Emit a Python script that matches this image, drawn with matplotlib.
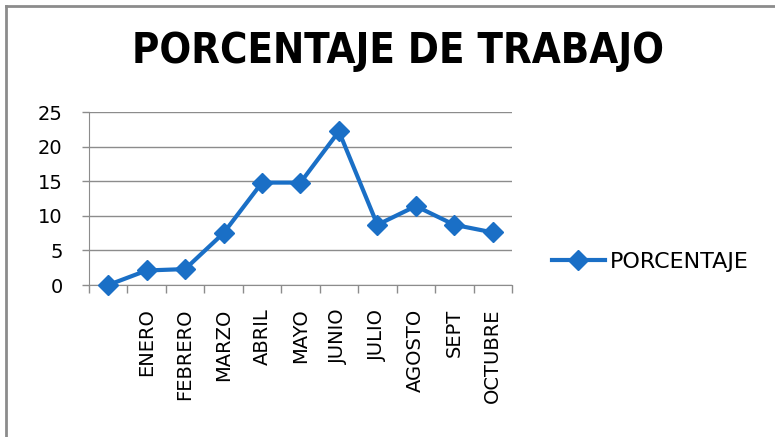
import matplotlib
matplotlib.use("Agg")
import matplotlib.pyplot as plt
from matplotlib.lines import Line2D

# Monthly work percentage
meses = ['', 'ENERO', 'FEBRERO', 'MARZO', 'ABRIL', 'MAYO', 'JUNIO',
         'JULIO', 'AGOSTO', 'SEPT', 'OCTUBRE']
porcentaje = [0, 2.1, 2.3, 7.5, 14.8, 14.8, 22.2, 8.7, 11.4, 8.7, 7.6]
y_ticks = [0, 5, 10, 15, 20, 25]

azul = '#1a6fc6'
gris = '#8c8c8c'
fuente = 'DejaVu Sans'

fig = plt.figure(figsize=(7.75, 4.37), dpi=100)
ax = fig.add_axes([0.1148, 0.3478, 0.5458, 0.3959])

x = list(range(len(meses)))
ax.plot(x, porcentaje, color=azul, lw=3, marker='D', markersize=10,
        clip_on=False, zorder=3, label='PORCENTAJE')

ax.set_xlim(-0.5, len(meses) - 0.5)
ax.set_ylim(0, 25)
ax.set_yticks(y_ticks)
ax.set_yticklabels([str(v) for v in y_ticks], fontsize=14, family=fuente)
ax.yaxis.grid(True, color=gris, lw=1)
ax.set_axisbelow(True)

# category labels centred, tick marks on the boundaries
ax.set_xticks(x)
ax.set_xticklabels(meses, rotation=90, fontsize=14, family=fuente, va='top')
ax.set_xticks([i - 0.5 for i in range(len(meses) + 1)], minor=True)
ax.tick_params(axis='x', which='major', length=0, pad=17)
ax.tick_params(axis='x', which='minor', length=6, color=gris, width=1)
ax.tick_params(axis='y', length=5, color=gris, width=1, pad=14)

for s in ['top', 'right']:
    ax.spines[s].set_visible(False)
ax.spines['left'].set_color(gris)
ax.spines['bottom'].set_color(gris)

leg = fig.legend(loc='center left', bbox_to_anchor=(0.712, 0.40), frameon=False,
                 handlelength=2.4, handletextpad=0.22, borderaxespad=0,
                 borderpad=0, prop={'family': fuente, 'size': 16})

fig.text(0.513, 0.884, 'PORCENTAJE DE TRABAJO', ha='center', va='center',
         fontsize=30, fontweight='bold', fontstretch='condensed', family=fuente)

# chart frame (top and left edges)
fig.add_artist(Line2D([0.008, 1.0], [0.986, 0.986], color=gris, lw=2))
fig.add_artist(Line2D([0.008, 0.008], [0.0, 0.986], color=gris, lw=2))

fig.savefig('out.png', dpi=100)
